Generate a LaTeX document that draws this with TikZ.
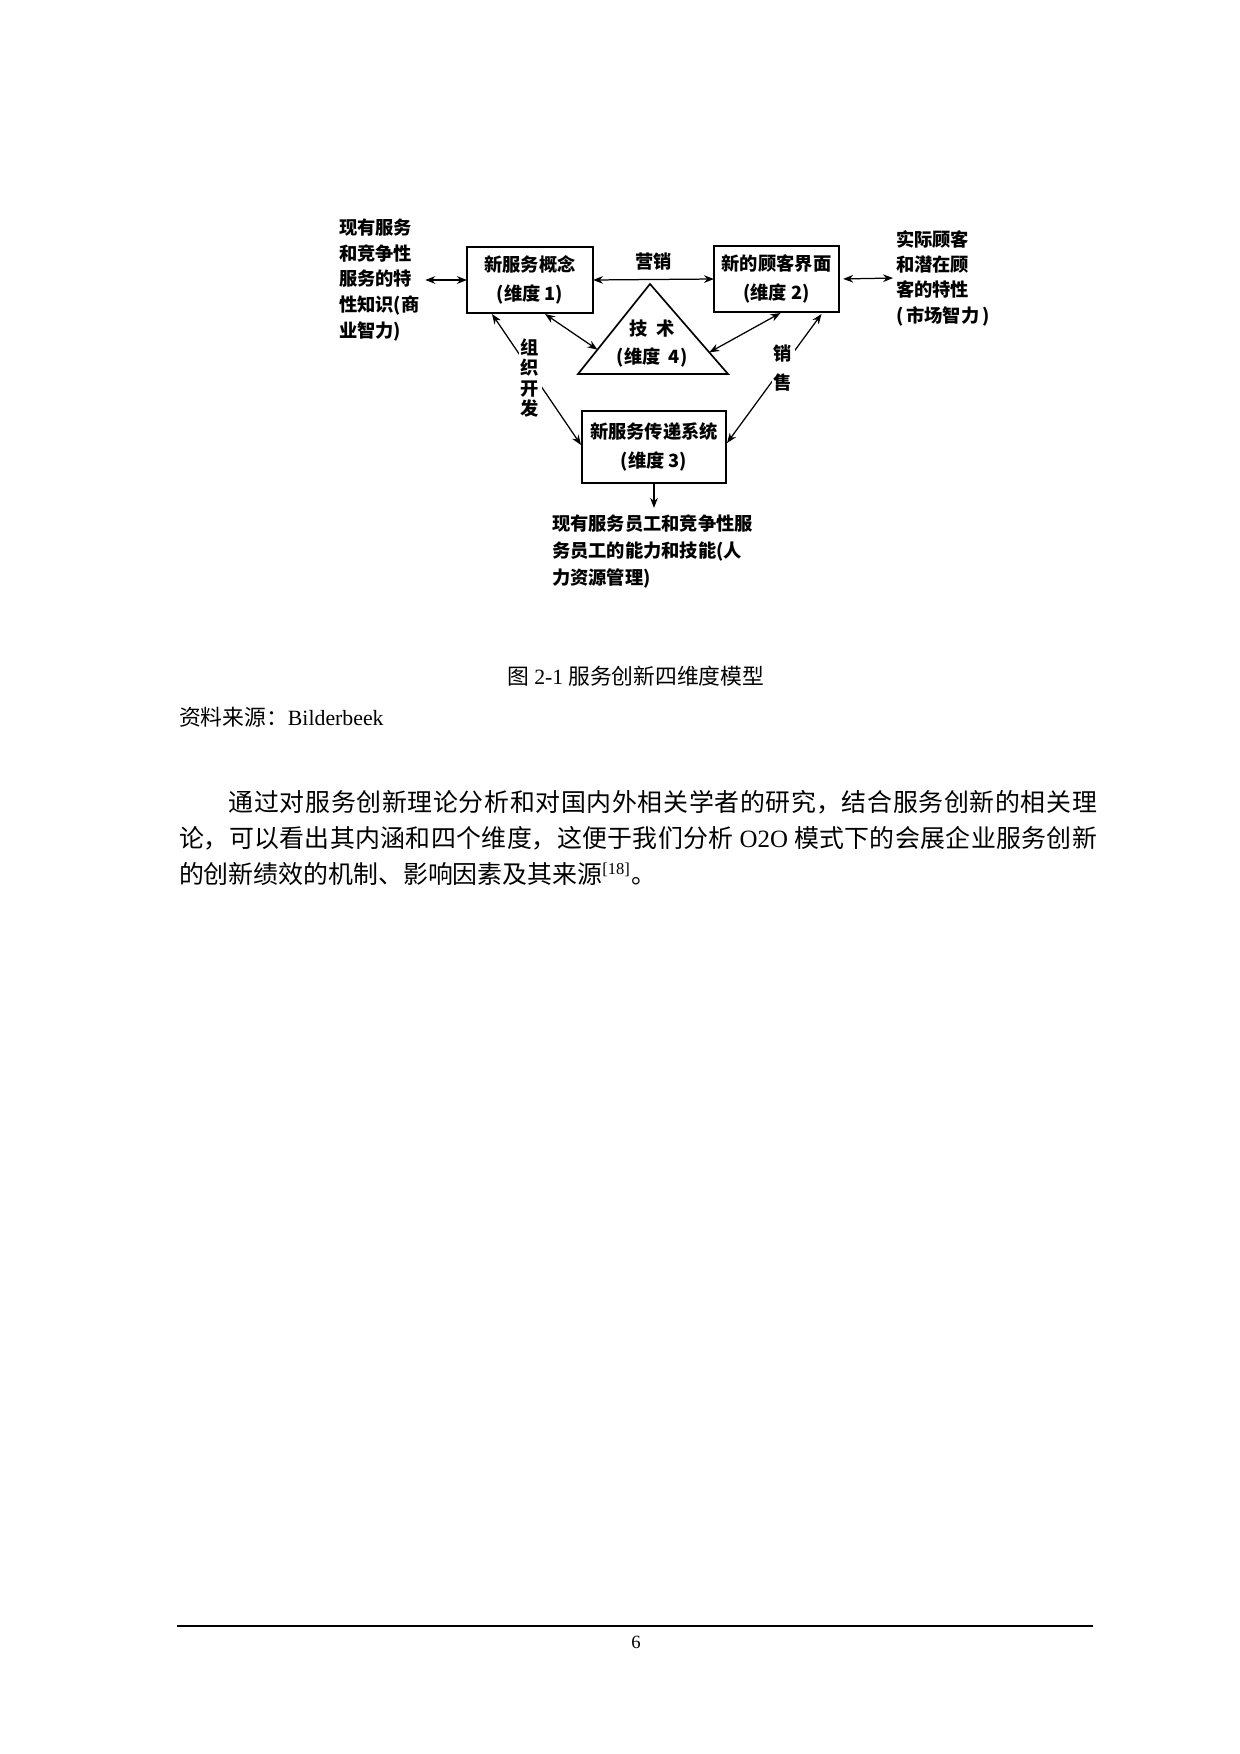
\documentclass[tikz,border=0pt]{standalone}
\usepackage{fontspec}
\setmainfont{Noto Sans CJK SC}
\newfontfamily\tnr{Liberation Serif}
\usetikzlibrary{arrows.meta, calc, positioning}
\XeTeXlinebreaklocale "zh"
\XeTeXlinebreakskip=0pt plus 1pt

\begin{document}
\begin{tikzpicture}[
    x=0.16935mm, y=-0.16935mm,
    every node/.style={inner sep=0pt, outer sep=0pt},
    dimbox/.style={draw, line width=0.8pt, align=center, font=\fontsize{8.8}{14}\selectfont\bfseries},
    note/.style={align=left, font=\fontsize{8.8}{12.4}\selectfont\bfseries},
    tag/.style={fill=white, inner sep=0.4mm, align=center, font=\fontsize{8.8}{9.8}\selectfont\bfseries},
    twoway/.style={{Stealth[length=1.7mm, width=1.3mm]}-{Stealth[length=1.7mm, width=1.3mm]}, line width=0.6pt},
    oneway/.style={-{Stealth[length=1.7mm, width=1.3mm]}, line width=0.6pt}
  ]
  \useasboundingbox (0,0) rectangle (1240,1754);

  \node[dimbox, minimum width=21.34mm, minimum height=11.18mm] (concept) at (530,280) {新服务概念\\(维度 1)};
  \node[dimbox, minimum width=21.17mm, minimum height=11.18mm] (interface) at (776.5,279) {新的顾客界面\\(维度 2)};
  \node[dimbox, minimum width=24.39mm, minimum height=12.19mm] (delivery) at (654,447) {新服务传递系统\\(维度 3)};

  \coordinate (apex) at (650,284);
  \coordinate (baseL) at (578,374);
  \coordinate (baseR) at (728,374);
  \draw[line width=0.8pt] (apex) -- (baseL) -- (baseR) -- cycle;
  \node[dimbox, draw=none, font=\fontsize{8.8}{13.5}\selectfont\bfseries] (tech) at (652,344) {技\ \ 术\\(维度\ \ 4)};

  \node[note, anchor=west] (knowledge) at (339,280) {现有服务\\和竞争性\\服务的特\\性知识(商\\业智力)};
  \node[note, anchor=west, font=\fontsize{8.8}{12.2}\selectfont\bfseries] (customer) at (896,278) {实际顾客\\和潜在顾\\客的特性\\(\,市场智力\,)};
  \node[note, anchor=north west, font=\fontsize{8.8}{13}\selectfont\bfseries] (staff) at (552,515) {现有服务员工和竞争性服\\务员工的能力和技能(人\\力资源管理)};

  \draw[twoway, shorten <=1mm] (knowledge.east) -- (concept.west);
  \draw[twoway] (concept.east) -- node[above=1.6mm, font=\fontsize{8.8}{10}\selectfont\bfseries] (marketing) {营销} (interface.west);
  \draw[twoway, shorten <=0.7mm, shorten >=0.5mm] (interface.east) -- (customer.west);
  \draw[twoway] ($(concept.south)+(15,1)$) -- ($(apex)!0.73!(baseL)$);
  \draw[twoway] ($(interface.south)+(4,1)$) -- ($(apex)!0.76!(baseR)$);
  \draw[twoway] ($(concept.south)+(-38,1)$) -- ($(delivery.west)+(-1,-2)$);
  \draw[twoway] ($(interface.south)+(45,2)$) -- ($(delivery.east)+(1,-4)$);
  \draw[oneway, shorten >=1.2mm] (delivery.south) -- (delivery.south |- staff.north);

  \node[tag] (orgdev) at (530,378) {组\\织\\开\\发};
  \node[tag, font=\fontsize{8.8}{14}\selectfont\bfseries] (sales) at (783,368) {销\\售};

  \node[font=\fontsize{10.5}{12}\selectfont] (caption) at (636,676) {图 {\tnr 2-1} 服务创新四维度模型};
  \node[anchor=west, font=\fontsize{10.5}{12}\selectfont] (source) at (179,717) {资料来源：{\tnr Bilderbeek}};
  \node[anchor=north west, text width=155.46mm, align=justify, font=\fontsize{12}{17.35}\selectfont] (body) at (179,790)
    {\hspace*{2em}通过对服务创新理论分析和对国内外相关学者的研究，结合服务创新的相关理\linebreak
     论，可以看出其内涵和四个维度，这便于我们分析 {\tnr O2O} 模式下的会展企业服务创新\linebreak
     的创新绩效的机制、影响因素及其来源\textsuperscript{\tnr[18]}。};

  \coordinate (ruleL) at (177,1626);
  \coordinate (ruleR) at (1093,1626);
  \draw[line width=1.2pt] (ruleL) -- (ruleR);
  \node[font=\fontsize{9}{11}\selectfont] (pagenum) at (636,1642) {\tnr 6};
\end{tikzpicture}
\end{document}
